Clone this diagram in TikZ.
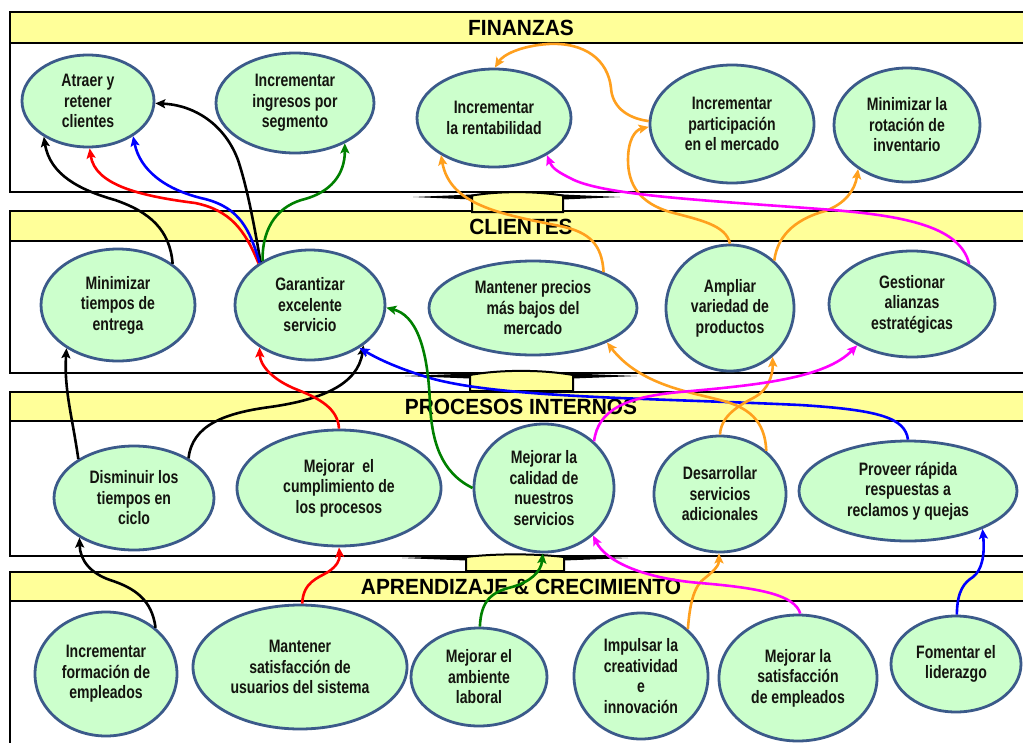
\documentclass[tikz,border=0pt]{standalone}
\usepackage{fontspec}
\newfontfamily\nodefont{Liberation Sans}[FakeStretch=0.78]
\newfontfamily\hdrfont{Liberation Sans}[FakeStretch=0.95]
\usetikzlibrary{shapes.geometric,arrows.meta}
\definecolor{ellB}{RGB}{59,90,138}
\definecolor{ellF}{RGB}{204,255,204}
\definecolor{hdrY}{RGB}{255,255,153}
\definecolor{cOra}{RGB}{255,160,30}
\definecolor{cMag}{RGB}{255,0,255}
\definecolor{cBlu}{RGB}{0,0,255}
\definecolor{cRed}{RGB}{255,0,0}
\definecolor{cGrn}{RGB}{0,128,0}
\definecolor{txt}{RGB}{20,20,15}
\tikzset{
  ell/.style={ellipse, draw=ellB, fill=ellF, line width=2.8pt, inner sep=0pt, align=center,
    font=\nodefont\bfseries\fontsize{18}{20.5}\selectfont, text=txt},
  frame/.style={draw=black, line width=2.4pt},
  hdr/.style={draw=black, fill=hdrY, line width=2.4pt},
  hdrtxt/.style={font=\hdrfont\bfseries\fontsize{22}{24}\selectfont, text=black, inner sep=0pt},
  conn/.style={line width=2.6pt, -{Stealth[length=10pt,width=9pt,inset=2pt]}},
  wing/.style={fill=black},
  wbox/.style={draw=black, fill=hdrY, line width=2pt, line join=miter}
}
\begin{document}
\begin{tikzpicture}[x=1pt,y=-1pt]
\useasboundingbox (0,0) rectangle (1023,742);
\clip (0,0) rectangle (1023,742);
\fill[white] (0,0) rectangle (1023,742);
% sections
\draw[frame] (10,12) rectangle (1034,192);
\draw[hdr] (10,12) rectangle (1034,43);
\draw[frame] (10,211) rectangle (1034,373);
\draw[hdr] (10,211) rectangle (1034,241);
\draw[frame] (10,392) rectangle (1034,556);
\draw[hdr] (10,392) rectangle (1034,421);
\draw[frame] (10,572) rectangle (1034,770);
\draw[hdr] (10,572) rectangle (1034,601);
\node[hdrtxt] (hF) at (521,28) {FINANZAS};
\node[hdrtxt] (hC) at (521,227) {CLIENTES};
\node[hdrtxt] (hP) at (521,407) {PROCESOS INTERNOS};
\node[hdrtxt] (hA) at (521,587) {APRENDIZAJE \& CRECIMIENTO};
% wings
\fill[wing] (413,197) -- (472,194.5) -- (563,194.5) -- (620,197) -- (563,199.5) -- (472,199.5) -- cycle;
\draw[wbox] (472,195.5) .. controls (500,191) and (534,191) .. (563,195.5) -- (563,212) -- (472,212) -- cycle;
\fill[wing] (405,376) -- (470,373.5) -- (573,373.5) -- (637,376) -- (573,378.5) -- (470,378.5) -- cycle;
\draw[wbox] (470,375) .. controls (500,369.5) and (542,369.5) .. (573,375) -- (573,391) -- (470,391) -- cycle;
\fill[wing] (402,558) -- (466,555.5) -- (564,555.5) -- (628,558) -- (564,560.5) -- (466,560.5) -- cycle;
\draw[wbox] (466,557) .. controls (495,553.5) and (535,553.5) .. (564,557) -- (564,571) -- (466,571) -- cycle;
% FINANZAS
\node[ell, minimum width=132, minimum height=92] (atr) at (88,101) {Atraer y\\retener\\clientes};
\node[ell, minimum width=158, minimum height=100] (ing) at (295,103) {Incrementar\\ingresos por\\segmento};
\node[ell, minimum width=154, minimum height=98] (ren) at (494,118) {Incrementar\\la rentabilidad};
\node[ell, minimum width=164, minimum height=118] (par) at (732,124) {Incrementar\\participación\\en el mercado};
\node[ell, minimum width=146, minimum height=114] (rot) at (907,125) {Minimizar la\\rotación de\\inventario};
% CLIENTES
\node[ell, minimum width=154, minimum height=112] (mte) at (118,305) {Minimizar\\tiempos de\\entrega};
\node[ell, minimum width=150, minimum height=110] (gar) at (310,305) {Garantizar\\excelente\\servicio};
\node[ell, minimum width=208, minimum height=94] (pre) at (533,308) {Mantener precios\\más bajos del\\mercado};
\node[ell, minimum width=128, minimum height=126] (amp) at (730,308) {Ampliar\\variedad de\\productos};
\node[ell, minimum width=166, minimum height=106] (ges) at (912,304) {Gestionar\\alianzas\\estratégicas};
% PROCESOS
\node[ell, minimum width=160, minimum height=104] (dis) at (134,498) {Disminuir los\\tiempos en\\ciclo};
\node[ell, minimum width=204, minimum height=116] (cum) at (339,488) {Mejorar\ \ el\\cumplimiento de\\los procesos};
\node[ell, minimum width=140, minimum height=128] (cal) at (544,488) {Mejorar la\\calidad de\\nuestros\\servicios};
\node[ell, minimum width=132, minimum height=116] (des) at (720,494) {Desarrollar\\servicios\\adicionales};
\node[ell, minimum width=218, minimum height=100] (pro) at (908,491) {Proveer rápida\\respuestas a\\reclamos y quejas};
% APRENDIZAJE
\node[ell, minimum width=142, minimum height=124] (frm) at (106,674) {Incrementar\\formación de\\empleados};
\node[ell, minimum width=214, minimum height=124] (sat) at (300,667) {Mantener\\satisfacción de\\usuarios del sistema};
\node[ell, minimum width=136, minimum height=98] (amb) at (479,677) {Mejorar el\\ambiente\\laboral};
\node[ell, minimum width=134, minimum height=126] (imp) at (641,676) {Impulsar la\\creatividad\\e\\innovación};
\node[ell, minimum width=158, minimum height=126] (sem) at (798,678) {Mejorar la\\satisfacción\\de empleados};
\node[ell, minimum width=130, minimum height=96] (lid) at (956,664) {Fomentar el\\liderazgo};
% black
\draw[conn, black] (mte.37) .. controls (170,230) and (150,212) .. (115,200) .. controls (80,190) and (50,175) .. (atr.-141);
\draw[conn, black] (gar.139) .. controls (255,230) and (248,190) .. (238,160) .. controls (225,125) and (195,105) .. (atr.-2);
\draw[conn, black] (dis.145) .. controls (72,415) and (64,390) .. (mte.-140);
\draw[conn, black] (dis.36) .. controls (192,425) and (225,413) .. (270,407) .. controls (320,400) and (358,385) .. (gar.-37);
\draw[conn, black] (frm.43) .. controls (152,600) and (135,588) .. (110,580) .. controls (90,573) and (80,560) .. (dis.-144);
% red
\draw[conn, cRed] (gar.141) .. controls (245,230) and (230,210) .. (195,203) .. controls (140,196) and (95,185) .. (atr.-88);
\draw[conn, cRed] (cum.90) .. controls (338,408) and (318,398) .. (298,390) .. controls (272,380) and (260,365) .. (gar.-140);
\draw[conn, cRed] (sat.88) .. controls (303,582) and (318,578) .. (328,572) .. controls (337,566) and (340,560) .. (cum.-90);
% blue
\draw[conn, cBlu] (gar.140) .. controls (250,230) and (240,208) .. (205,199) .. controls (165,190) and (140,170) .. (atr.-38);
\draw[conn, cBlu] (pro.90) .. controls (905,418) and (880,410) .. (800,405) .. controls (650,398) and (500,398) .. (430,378) .. controls (400,369) and (380,360) .. (gar.-41);
\draw[conn, cBlu] (lid.89) .. controls (957,590) and (965,582) .. (973,577) .. controls (982,570) and (985,555) .. (pro.-27);
% green
\draw[conn, cGrn] (gar.137) .. controls (262,225) and (280,205) .. (305,199) .. controls (330,192) and (345,175) .. (ing.-39);
\draw[conn, cGrn] (cal.180) .. controls (440,472) and (432,440) .. (430,405) .. controls (428,345) and (415,315) .. (gar.-2);
\draw[conn, cGrn] (amb.89) .. controls (481,600) and (492,592) .. (512,587) .. controls (530,582) and (541,572) .. (cal.-91);
% orange
\draw[conn, cOra] (pre.27) .. controls (602,245) and (590,232) .. (560,226) .. controls (500,214) and (450,205) .. (ren.-145);
\draw[conn, cOra] (par.178) .. controls (625,118) and (612,105) .. (611,88) .. controls (608,60) and (585,42) .. (548,44) .. controls (520,46) and (503,55) .. (ren.89);
\draw[conn, cOra] (amp.90) .. controls (726,225) and (700,220) .. (670,212) .. controls (640,203) and (628,185) .. (628,160) .. controls (628,140) and (635,130) .. (par.182);
\draw[conn, cOra] (amp.47) .. controls (778,232) and (800,218) .. (825,211) .. controls (845,204) and (855,190) .. (rot.-138);
\draw[conn, cOra] (des.43) .. controls (765,420) and (748,407) .. (720,400) .. controls (690,392) and (640,385) .. (pre.-25);
\draw[conn, cOra] (des.90) .. controls (721,415) and (740,405) .. (755,397) .. controls (768,390) and (773,375) .. (amp.-49);
\draw[conn, cOra] (imp.45) .. controls (690,600) and (695,585) .. (705,578) .. controls (715,570) and (719,565) .. (des.-91);
% magenta
\draw[conn, cMag] (ges.35) .. controls (960,225) and (900,215) .. (820,209) .. controls (700,200) and (600,195) .. (570,178) .. controls (558,172) and (552,168) .. (ren.-35);
\draw[conn, cMag] (cal.43) .. controls (598,410) and (625,397) .. (680,392) .. controls (760,385) and (825,378) .. (ges.-143);
\draw[conn, cMag] (sem.88) .. controls (795,595) and (760,588) .. (700,583) .. controls (640,578) and (605,560) .. (cal.-44);
\end{tikzpicture}
\end{document}
